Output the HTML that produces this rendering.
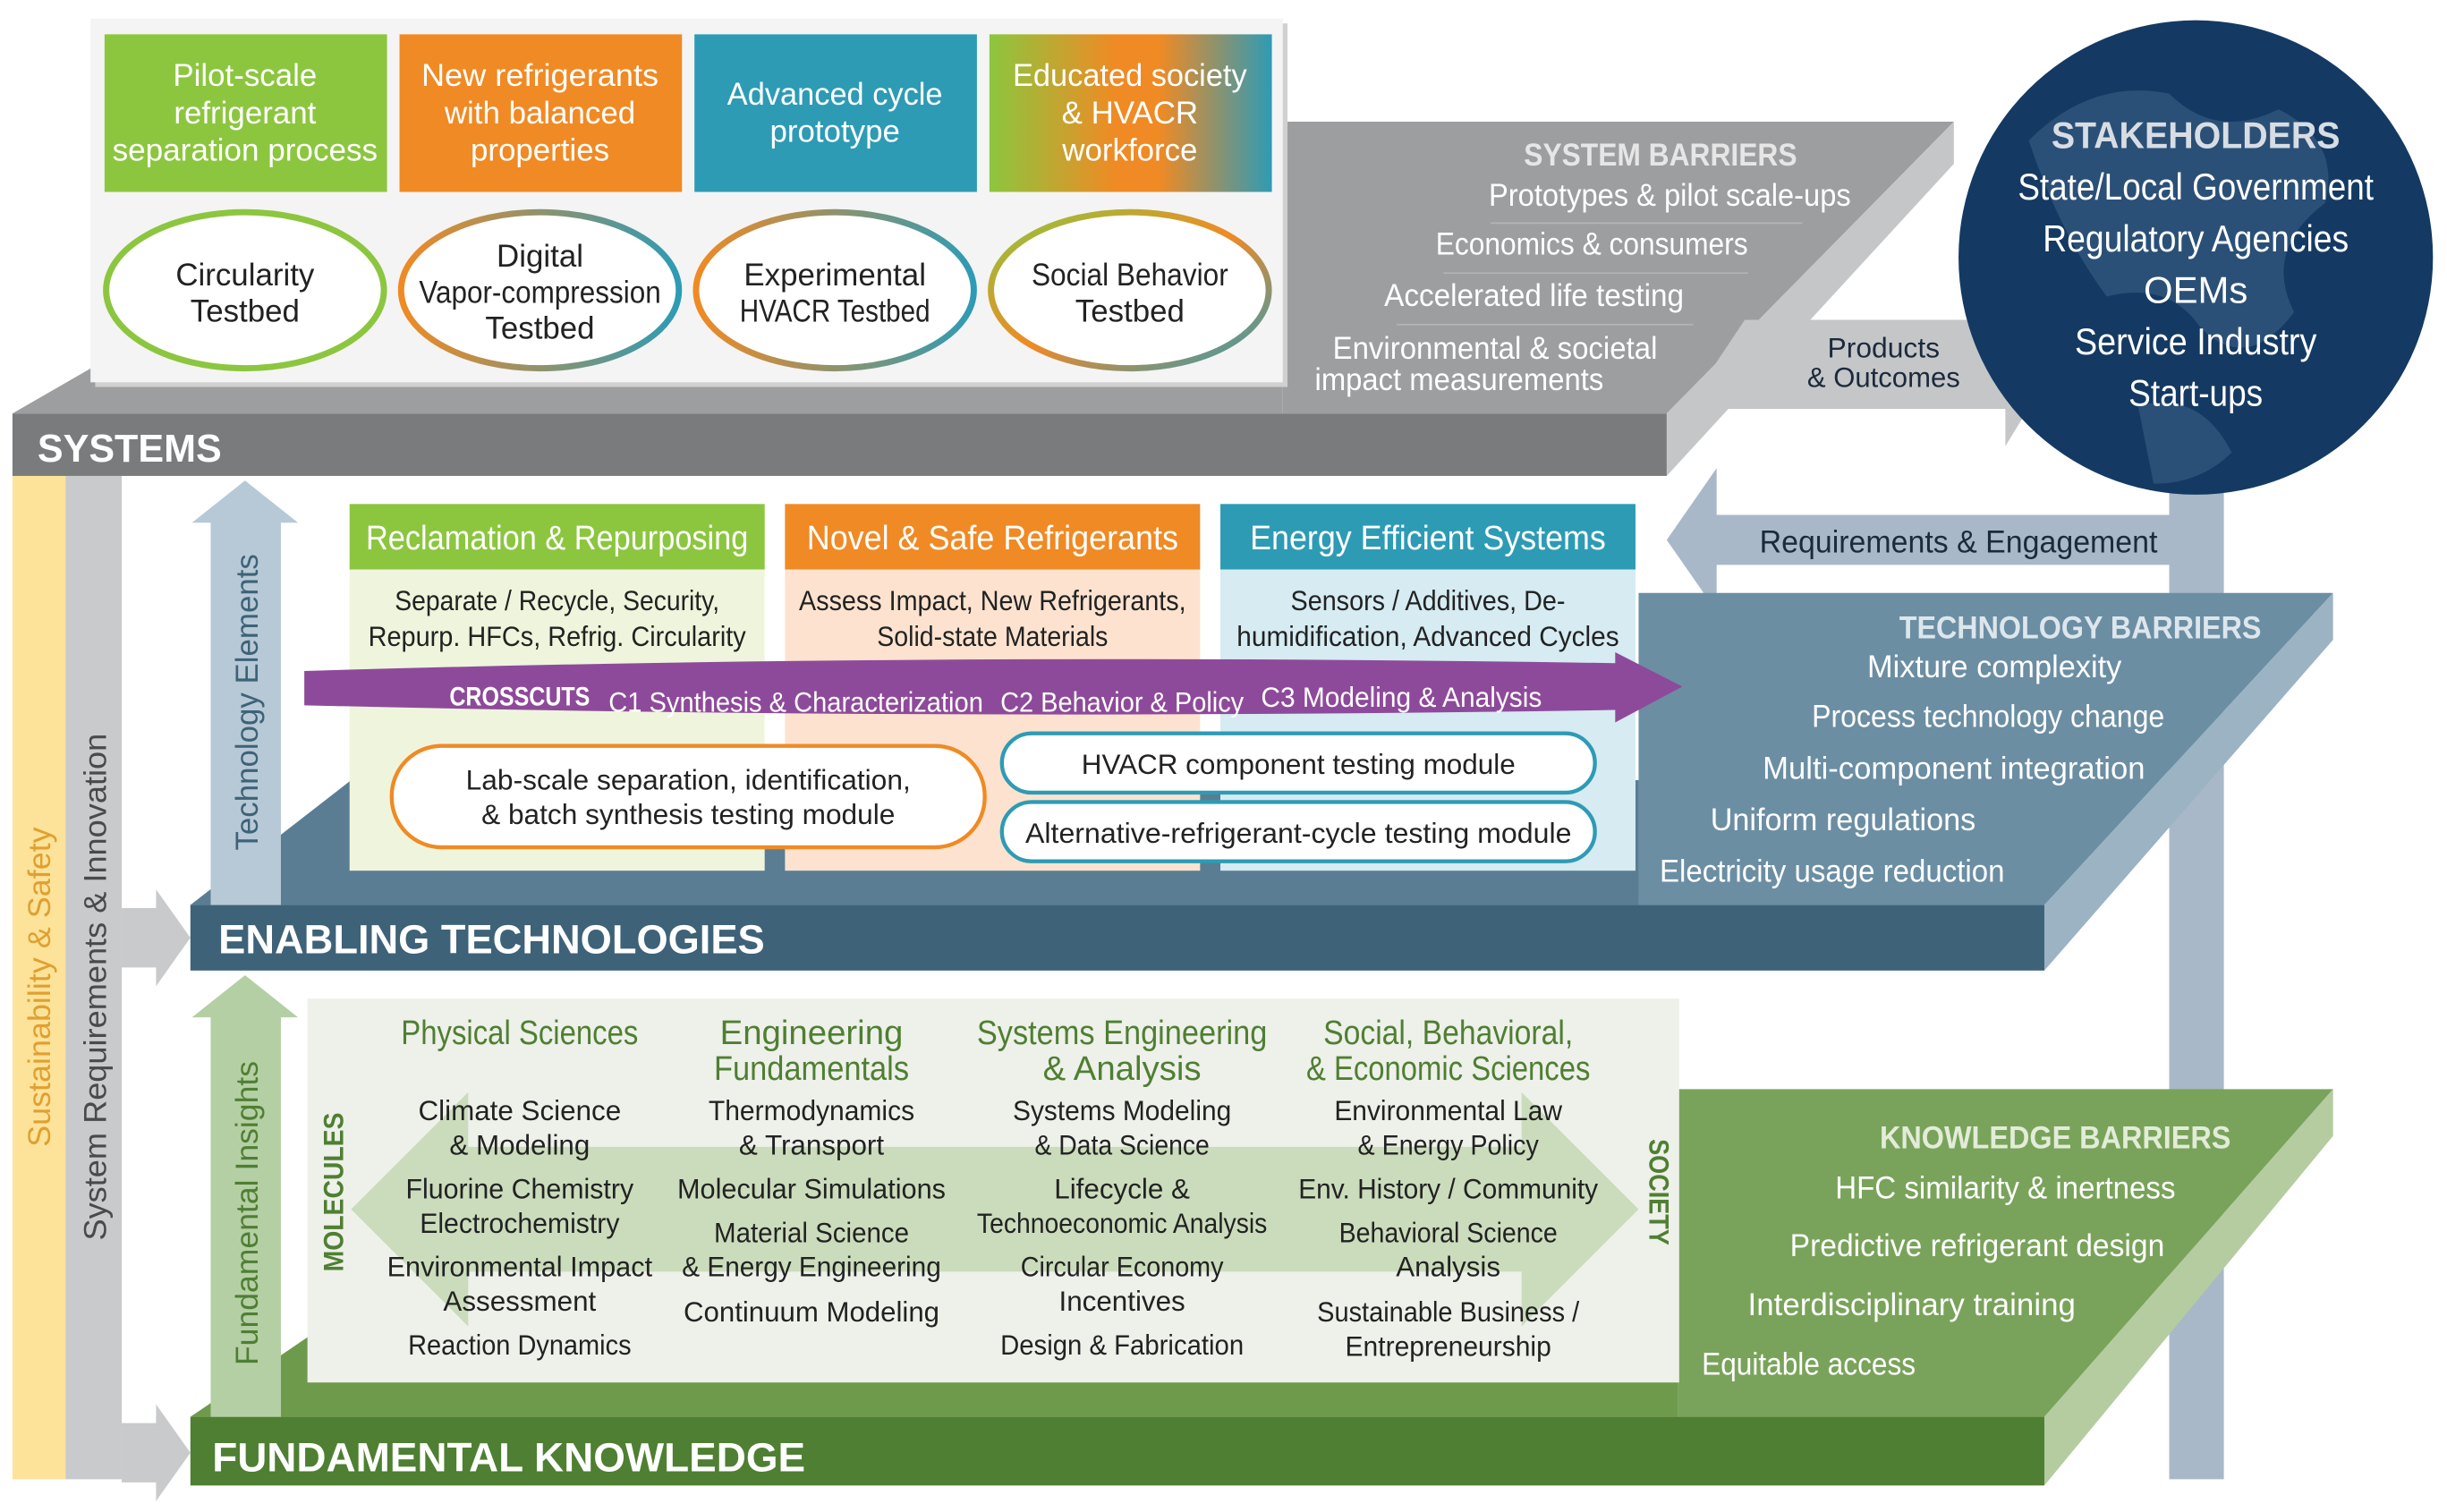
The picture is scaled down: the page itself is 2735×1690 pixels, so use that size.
<!DOCTYPE html>
<html><head><meta charset="utf-8"><style>
html,body{margin:0;padding:0;background:#fff;}
svg{display:block;}
text{font-family:"Liberation Sans Narrow","Liberation Sans",sans-serif;}
</style></head><body>
<svg width="2735" height="1690" viewBox="0 0 1568 969" preserveAspectRatio="none" xmlns="http://www.w3.org/2000/svg">
<defs>
<linearGradient id="g4" x1="0" x2="1"><stop offset="0" stop-color="#8cc63f"/><stop offset="0.45" stop-color="#f08a24"/><stop offset="0.6" stop-color="#f08a24"/><stop offset="1" stop-color="#2e9bb5"/></linearGradient>
<linearGradient id="e4" x1="0" x2="1" y1="0" y2="1"><stop offset="0" stop-color="#8cc63f"/><stop offset="0.5" stop-color="#f08a24"/><stop offset="1" stop-color="#2e9bb5"/></linearGradient>
<linearGradient id="e3" x1="0" x2="1"><stop offset="0" stop-color="#f08a24"/><stop offset="1" stop-color="#2e9bb5"/></linearGradient>
<linearGradient id="e2" x1="0" x2="1"><stop offset="0" stop-color="#f08a24"/><stop offset="1" stop-color="#2e9bb5"/></linearGradient>
</defs>

<rect x="1390" y="300" width="35" height="648" fill="#a9b8c8"/>
<polygon points="1390,330 1100,330 1100,300 1068,346 1100,392 1100,362 1390,362" fill="#a9b8c8"/>
<text x="1255" y="354" font-size="20" fill="#1b2a3c" text-anchor="middle" textLength="255" lengthAdjust="spacingAndGlyphs">Requirements &amp; Engagement</text>

<rect x="8" y="305" width="34" height="643" fill="#fde39a"/>
<rect x="42" y="305" width="36" height="643" fill="#c9cacc"/>
<polygon points="78,582 100,582 100,570 122,601 100,632 100,620 78,620" fill="#c9cacc"/>
<polygon points="78,912 100,912 100,900 122,931 100,962 100,950 78,950" fill="#c9cacc"/>
<text transform="translate(32,735) rotate(-90)" font-size="20" fill="#e0a030" textLength="205" lengthAdjust="spacingAndGlyphs">Sustainability &amp; Safety</text>
<text transform="translate(68,795) rotate(-90)" font-size="20" fill="#4a4a4a" textLength="325" lengthAdjust="spacingAndGlyphs">System Requirements &amp; Innovation</text>

<polygon points="822,78 1252,78 1068,265 822,265" fill="#9d9ea0"/>
<polygon points="8,265 60,235 822,235 822,265" fill="#9d9ea0"/>
<polygon points="1068,265 1252,78 1252,105 1068,305" fill="#c5c6c8"/>
<rect x="8" y="265" width="1060" height="40" fill="#7a7b7d"/>
<text x="24" y="296" font-size="25" font-weight="bold" fill="#fff" textLength="118" lengthAdjust="spacingAndGlyphs">SYSTEMS</text>
<g fill="#fff" font-size="20" text-anchor="middle">
<text x="1064" y="106" fill="#e6e6e6" font-weight="bold" textLength="175" lengthAdjust="spacingAndGlyphs">SYSTEM BARRIERS</text>
<text x="1070" y="132" textLength="232" lengthAdjust="spacingAndGlyphs">Prototypes &amp; pilot scale-ups</text>
<text x="1020" y="163" textLength="200" lengthAdjust="spacingAndGlyphs">Economics &amp; consumers</text>
<text x="983" y="196" textLength="192" lengthAdjust="spacingAndGlyphs">Accelerated life testing</text>
<text x="958" y="230" textLength="208" lengthAdjust="spacingAndGlyphs">Environmental &amp; societal</text>
<text x="935" y="250" textLength="185" lengthAdjust="spacingAndGlyphs">impact measurements</text>
</g>
<line x1="955" y1="143" x2="1155" y2="143" stroke="#b3b4b6"/>
<line x1="925" y1="175" x2="1120" y2="175" stroke="#b3b4b6"/>
<line x1="895" y1="208" x2="1085" y2="208" stroke="#b3b4b6"/>

<polygon points="1118,205 1285,205 1285,178 1318,232 1285,286 1285,262 1080,262" fill="#c5c6c8"/>
<text x="1207" y="229" font-size="18" fill="#1b2a3c" text-anchor="middle" textLength="72" lengthAdjust="spacingAndGlyphs">Products</text>
<text x="1207" y="248" font-size="18" fill="#1b2a3c" text-anchor="middle" textLength="98" lengthAdjust="spacingAndGlyphs">&amp; Outcomes</text>

<circle cx="1407" cy="165" r="152" fill="#143a63"/>
<path d="M1300,90 q40,-40 90,-30 q30,30 70,10 q40,20 30,60 q-40,30 -20,70 q-30,40 -60,10 q-20,-30 -60,-20 q-30,-40 -50,-100z" fill="#3b5f86" opacity="0.6"/>
<path d="M1370,260 q40,-10 60,30 q-20,20 -50,20z" fill="#3b5f86" opacity="0.6"/>
<g fill="#fff" font-size="24" text-anchor="middle">
<text x="1407" y="95" fill="#d8dde4" font-weight="bold" textLength="185" lengthAdjust="spacingAndGlyphs">STAKEHOLDERS</text>
<text x="1407" y="128" textLength="228" lengthAdjust="spacingAndGlyphs">State/Local Government</text>
<text x="1407" y="161" textLength="196" lengthAdjust="spacingAndGlyphs">Regulatory Agencies</text>
<text x="1407" y="194">OEMs</text>
<text x="1407" y="227" textLength="155" lengthAdjust="spacingAndGlyphs">Service Industry</text>
<text x="1407" y="260" textLength="86" lengthAdjust="spacingAndGlyphs">Start-ups</text>
</g>

<rect x="61" y="15" width="764" height="233" fill="#d0d0d0"/>
<rect x="58" y="12" width="764" height="233" fill="#f4f4f4"/>
<rect x="67" y="22" width="181" height="101" fill="#8cc63f"/>
<rect x="256" y="22" width="181" height="101" fill="#f08a24"/>
<rect x="445" y="22" width="181" height="101" fill="#2e9bb5"/>
<rect x="634" y="22" width="181" height="101" fill="url(#g4)"/>
<g fill="#fff" font-size="20" text-anchor="middle">
<text x="157" y="55">Pilot-scale</text><text x="157" y="79">refrigerant</text><text x="157" y="103" textLength="170" lengthAdjust="spacingAndGlyphs">separation process</text>
<text x="346" y="55" textLength="152" lengthAdjust="spacingAndGlyphs">New refrigerants</text><text x="346" y="79">with balanced</text><text x="346" y="103">properties</text>
<text x="535" y="67" textLength="138" lengthAdjust="spacingAndGlyphs">Advanced cycle</text><text x="535" y="91">prototype</text>
<text x="724" y="55" textLength="150" lengthAdjust="spacingAndGlyphs">Educated society</text><text x="724" y="79">&amp; HVACR</text><text x="724" y="103">workforce</text>
</g>
<ellipse cx="157" cy="186" rx="89" ry="50" fill="#fff" stroke="#8cc63f" stroke-width="4"/>
<ellipse cx="346" cy="186" rx="89" ry="50" fill="#fff" stroke="url(#e2)" stroke-width="4"/>
<ellipse cx="535" cy="186" rx="89" ry="50" fill="#fff" stroke="url(#e3)" stroke-width="4"/>
<ellipse cx="724" cy="186" rx="89" ry="50" fill="#fff" stroke="url(#e4)" stroke-width="4"/>
<g fill="#222" font-size="20" text-anchor="middle">
<text x="157" y="183">Circularity</text><text x="157" y="206">Testbed</text>
<text x="346" y="171">Digital</text><text x="346" y="194" textLength="155" lengthAdjust="spacingAndGlyphs">Vapor-compression</text><text x="346" y="217">Testbed</text>
<text x="535" y="183">Experimental</text><text x="535" y="206" textLength="122" lengthAdjust="spacingAndGlyphs">HVACR Testbed</text>
<text x="724" y="183" textLength="126" lengthAdjust="spacingAndGlyphs">Social Behavior</text><text x="724" y="206">Testbed</text>
</g>

<polygon points="1050,380 1495,380 1310,580 1050,580" fill="#6b8ea3"/>
<polygon points="122,580 225,500 1050,500 1050,580" fill="#5a7d93"/>
<polygon points="1310,580 1495,380 1495,410 1310,622" fill="#9bb3c3"/>
<rect x="122" y="580" width="1188" height="42" fill="#3e6278"/>
<text x="140" y="611" font-size="26" font-weight="bold" fill="#fff" textLength="350" lengthAdjust="spacingAndGlyphs">ENABLING TECHNOLOGIES</text>
<g fill="#fff" font-size="20" text-anchor="middle">
<text x="1333" y="409" fill="#dde6ec" font-weight="bold" textLength="232" lengthAdjust="spacingAndGlyphs">TECHNOLOGY BARRIERS</text>
<text x="1278" y="434" textLength="163" lengthAdjust="spacingAndGlyphs">Mixture complexity</text>
<text x="1274" y="466" textLength="226" lengthAdjust="spacingAndGlyphs">Process technology change</text>
<text x="1252" y="499" textLength="245" lengthAdjust="spacingAndGlyphs">Multi-component integration</text>
<text x="1181" y="532" textLength="170" lengthAdjust="spacingAndGlyphs">Uniform regulations</text>
<text x="1174" y="565" textLength="221" lengthAdjust="spacingAndGlyphs">Electricity usage reduction</text>
</g>
<polygon points="135,580 135,335 123,335 157,308 191,335 180,335 180,580" fill="#b7c9d6"/>
<text transform="translate(165,545) rotate(-90)" font-size="20" fill="#3e6278" textLength="190" lengthAdjust="spacingAndGlyphs">Technology Elements</text>

<rect x="224" y="323" width="266" height="42" fill="#8cc63f"/><rect x="224" y="365" width="266" height="193" fill="#eef5dc"/>
<rect x="503" y="323" width="266" height="42" fill="#f08a24"/><rect x="503" y="365" width="266" height="193" fill="#fde3cf"/>
<rect x="782" y="323" width="266" height="42" fill="#2e9bb5"/><rect x="782" y="365" width="266" height="193" fill="#d6ebf2"/>
<g fill="#fff" font-size="22" text-anchor="middle">
<text x="357" y="352" textLength="245" lengthAdjust="spacingAndGlyphs">Reclamation &amp; Repurposing</text>
<text x="636" y="352" textLength="238" lengthAdjust="spacingAndGlyphs">Novel &amp; Safe Refrigerants</text>
<text x="915" y="352" textLength="228" lengthAdjust="spacingAndGlyphs">Energy Efficient Systems</text>
</g>
<g fill="#222" font-size="18" text-anchor="middle">
<text x="357" y="391" textLength="208" lengthAdjust="spacingAndGlyphs">Separate / Recycle, Security,</text><text x="357" y="414" textLength="242" lengthAdjust="spacingAndGlyphs">Repurp. HFCs, Refrig. Circularity</text>
<text x="636" y="391" textLength="248" lengthAdjust="spacingAndGlyphs">Assess Impact, New Refrigerants,</text><text x="636" y="414" textLength="148" lengthAdjust="spacingAndGlyphs">Solid-state Materials</text>
<text x="915" y="391" textLength="176" lengthAdjust="spacingAndGlyphs">Sensors / Additives, De-</text><text x="915" y="414" textLength="245" lengthAdjust="spacingAndGlyphs">humidification, Advanced Cycles</text>
</g>
<path d="M195,430 Q600,418 1035,425 L1035,418 L1078,440 L1035,463 L1035,455 Q600,462 195,452 Z" fill="#8e4a9a"/>
<text x="288" y="452" fill="#fff" font-size="17" font-weight="bold" textLength="90" lengthAdjust="spacingAndGlyphs">CROSSCUTS</text>
<g fill="#fff" font-size="18">
<text x="390" y="456" textLength="240" lengthAdjust="spacingAndGlyphs">C1 Synthesis &amp; Characterization</text>
<text x="641" y="456" textLength="156" lengthAdjust="spacingAndGlyphs">C2 Behavior &amp; Policy</text>
<text x="808" y="453" textLength="180" lengthAdjust="spacingAndGlyphs">C3 Modeling &amp; Analysis</text>
</g>
<rect x="251" y="478" width="380" height="65" rx="32" fill="#fff" stroke="#f08a24" stroke-width="2.5"/>
<rect x="642" y="470" width="380" height="38" rx="19" fill="#fff" stroke="#2e9bb5" stroke-width="2.5"/>
<rect x="642" y="514" width="380" height="38" rx="19" fill="#fff" stroke="#2e9bb5" stroke-width="2.5"/>
<g fill="#222" font-size="18" text-anchor="middle">
<text x="441" y="506" textLength="285" lengthAdjust="spacingAndGlyphs">Lab-scale separation, identification,</text>
<text x="441" y="528" textLength="265" lengthAdjust="spacingAndGlyphs">&amp; batch synthesis testing module</text>
<text x="832" y="496" textLength="278" lengthAdjust="spacingAndGlyphs">HVACR component testing module</text>
<text x="832" y="540" textLength="350" lengthAdjust="spacingAndGlyphs">Alternative-refrigerant-cycle testing module</text>
</g>

<polygon points="1075,698 1495,698 1310,908 1075,908" fill="#79a35a"/>
<polygon points="122,908 200,855 1075,855 1075,908" fill="#6e9a4c"/>
<polygon points="1310,908 1495,698 1495,728 1310,952" fill="#b4cca0"/>
<rect x="122" y="908" width="1188" height="44" fill="#4f7f32"/>
<text x="136" y="943" font-size="26" font-weight="bold" fill="#fff" textLength="380" lengthAdjust="spacingAndGlyphs">FUNDAMENTAL KNOWLEDGE</text>
<g fill="#fff" font-size="20" text-anchor="middle">
<text x="1317" y="736" fill="#e2ecd8" font-weight="bold" textLength="225" lengthAdjust="spacingAndGlyphs">KNOWLEDGE BARRIERS</text>
<text x="1285" y="768" textLength="218" lengthAdjust="spacingAndGlyphs">HFC similarity &amp; inertness</text>
<text x="1267" y="805" textLength="240" lengthAdjust="spacingAndGlyphs">Predictive refrigerant design</text>
<text x="1225" y="843" textLength="210" lengthAdjust="spacingAndGlyphs">Interdisciplinary training</text>
<text x="1159" y="881" textLength="137" lengthAdjust="spacingAndGlyphs">Equitable access</text>
</g>
<polygon points="135,908 135,652 123,652 157,625 191,652 180,652 180,908" fill="#b5cfa5"/>
<text transform="translate(165,875) rotate(-90)" font-size="20" fill="#4f7f32" textLength="195" lengthAdjust="spacingAndGlyphs">Fundamental Insights</text>

<rect x="197" y="640" width="879" height="246" fill="#eef0ea"/>
<polygon points="225,775 300,700 300,735 975,735 975,700 1050,775 975,850 975,815 300,815 300,850" fill="#cbdcbc"/>
<text transform="translate(220,815) rotate(-90)" font-size="18" font-weight="bold" fill="#4f7f32" textLength="102" lengthAdjust="spacingAndGlyphs">MOLECULES</text>
<text transform="translate(1057,730) rotate(90)" font-size="18" font-weight="bold" fill="#4f7f32" textLength="68" lengthAdjust="spacingAndGlyphs">SOCIETY</text>
<g fill="#4f7f32" font-size="22" text-anchor="middle">
<text x="333" y="669" textLength="152" lengthAdjust="spacingAndGlyphs">Physical Sciences</text>
<text x="520" y="669">Engineering</text><text x="520" y="692" textLength="125" lengthAdjust="spacingAndGlyphs">Fundamentals</text>
<text x="719" y="669" textLength="186" lengthAdjust="spacingAndGlyphs">Systems Engineering</text><text x="719" y="692">&amp; Analysis</text>
<text x="928" y="669" textLength="160" lengthAdjust="spacingAndGlyphs">Social, Behavioral,</text><text x="928" y="692" textLength="182" lengthAdjust="spacingAndGlyphs">&amp; Economic Sciences</text>
</g>
<g fill="#222" font-size="18" text-anchor="middle">
<text x="333" y="718">Climate Science</text><text x="333" y="740">&amp; Modeling</text>
<text x="333" y="768" textLength="146" lengthAdjust="spacingAndGlyphs">Fluorine Chemistry</text><text x="333" y="790" textLength="128" lengthAdjust="spacingAndGlyphs">Electrochemistry</text>
<text x="333" y="818" textLength="170" lengthAdjust="spacingAndGlyphs">Environmental Impact</text><text x="333" y="840">Assessment</text>
<text x="333" y="868" textLength="143" lengthAdjust="spacingAndGlyphs">Reaction Dynamics</text>
<text x="520" y="718" textLength="132" lengthAdjust="spacingAndGlyphs">Thermodynamics</text><text x="520" y="740">&amp; Transport</text>
<text x="520" y="768" textLength="172" lengthAdjust="spacingAndGlyphs">Molecular Simulations</text>
<text x="520" y="796" textLength="125" lengthAdjust="spacingAndGlyphs">Material Science</text><text x="520" y="818" textLength="166" lengthAdjust="spacingAndGlyphs">&amp; Energy Engineering</text>
<text x="520" y="847" textLength="164" lengthAdjust="spacingAndGlyphs">Continuum Modeling</text>
<text x="719" y="718" textLength="140" lengthAdjust="spacingAndGlyphs">Systems Modeling</text><text x="719" y="740" textLength="112" lengthAdjust="spacingAndGlyphs">&amp; Data Science</text>
<text x="719" y="768">Lifecycle &amp;</text><text x="719" y="790" textLength="186" lengthAdjust="spacingAndGlyphs">Technoeconomic Analysis</text>
<text x="719" y="818" textLength="130" lengthAdjust="spacingAndGlyphs">Circular Economy</text><text x="719" y="840">Incentives</text>
<text x="719" y="868" textLength="156" lengthAdjust="spacingAndGlyphs">Design &amp; Fabrication</text>
<text x="928" y="718" textLength="146" lengthAdjust="spacingAndGlyphs">Environmental Law</text><text x="928" y="740" textLength="116" lengthAdjust="spacingAndGlyphs">&amp; Energy Policy</text>
<text x="928" y="768" textLength="192" lengthAdjust="spacingAndGlyphs">Env. History / Community</text>
<text x="928" y="796" textLength="140" lengthAdjust="spacingAndGlyphs">Behavioral Science</text><text x="928" y="818">Analysis</text>
<text x="928" y="847" textLength="168" lengthAdjust="spacingAndGlyphs">Sustainable Business /</text><text x="928" y="869" textLength="132" lengthAdjust="spacingAndGlyphs">Entrepreneurship</text>
</g>
</svg>
</body></html>
